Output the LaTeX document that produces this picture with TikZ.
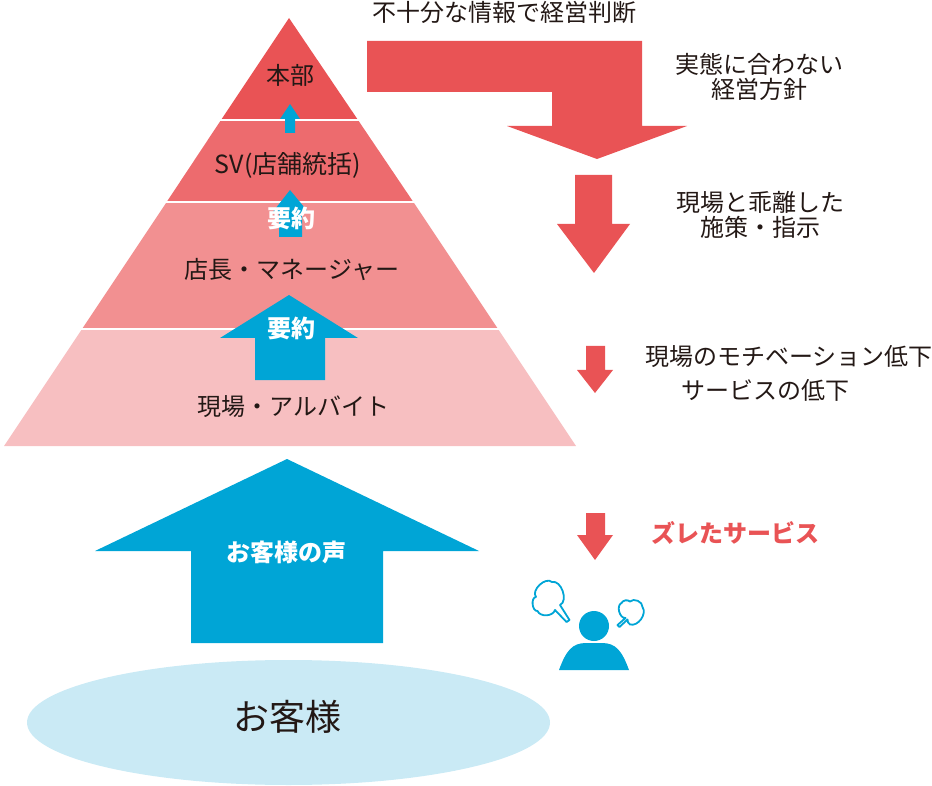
\documentclass[tikz,border=0pt]{standalone}
\usepackage{fontspec}
\setmainfont{Noto Sans CJK JP}
\usepackage{xcolor}
\definecolor{redmain}{HTML}{E95355}
\definecolor{redtwo}{HTML}{ED6B6E}
\definecolor{redthree}{HTML}{F29091}
\definecolor{redfour}{HTML}{F7BFC1}
\definecolor{bluemain}{HTML}{00A5D6}
\definecolor{bluepale}{HTML}{CAEAF5}
\definecolor{inktext}{HTML}{231815}

\begin{document}
\begin{tikzpicture}[x=1pt,y=-1pt,line width=0.2mm,
	label/.style={text=inktext,font=\fontsize{24}{25}\selectfont,inner sep=0pt,align=center},
	strong/.style={font=\fontsize{24}{25}\selectfont\bfseries,inner sep=0pt},
	redarrow/.style={fill=redmain},
	bluearrow/.style={fill=bluemain},
	puff/.style={draw=bluemain,fill=white,line width=1.8pt,line join=round}]
	\useasboundingbox (0,0) rectangle (932,786);

	% pyramid
	\path[fill=redfour]		(82,329) -- (498,329) -- (576,446) -- (4,446) -- cycle;
	\path[fill=redthree]	(166,203) -- (414,203) -- (498,329) -- (82,329) -- cycle;
	\path[fill=redtwo]		(221,120) -- (358,120) -- (414,203) -- (166,203) -- cycle;
	\path[fill=redmain]		(289,18) -- (358,120) -- (221,120) -- cycle;
	\draw[white,line width=2pt] (215,120.5) -- (365,120.5) (160,202.5) -- (420,202.5) (76,329) -- (504,329);

	% blue arrows
	\path[bluearrow]	(290,104) -- (300,119) -- (295,119) -- (295,133) -- (285,133) -- (285,119) -- (280,119) -- cycle;
	\path[bluearrow]	(290,190) -- (309,213) -- (302,213) -- (302,237) -- (279,237) -- (279,213) -- (272,213) -- cycle;
	\path[bluearrow]	(289,295) -- (358,338) -- (325,338) -- (325,380) -- (255,380) -- (255,338) -- (220,338) -- cycle;
	\path[bluearrow]	(287,459) -- (479,551) -- (383,551) -- (383,643) -- (191,643) -- (191,551) -- (95,551) -- cycle;

	% red arrows
	\path[redarrow]	(367,41) -- (642,41) -- (642,126) -- (687,126) -- (597,159) -- (507,126) -- (552,126) -- (552,92) -- (367,92) -- cycle;
	\path[redarrow]	(575,175) -- (612,175) -- (612,224) -- (630,224) -- (594,273) -- (557,224) -- (575,224) -- cycle;
	\path[redarrow]	(586,346) -- (605,346) -- (605,370) -- (613,370) -- (595,393) -- (577,370) -- (586,370) -- cycle;
	\path[redarrow]	(586,513) -- (605,513) -- (605,535) -- (613,535) -- (595,560) -- (577,535) -- (586,535) -- cycle;

	% ground
	\fill[bluepale] (288.5,722.5) ellipse [x radius=261.5,y radius=62.5];

	% person
	\fill[bluemain] (594,626) circle [radius=15];
	\fill[bluemain] (559,670) .. controls (566,651) and (572,643) .. (586,643) -- (602,643) .. controls (616,643) and (622,651) .. (629,670) -- cycle;

	% left puff
	\draw[puff]	(555,610) to[bend left=70] (537.5,611) to[bend left=90] (536,597)
		to[bend left=85] (552,582) to[bend left=85] (560,605) -- (569.5,620) -- (566.5,622) -- cycle;
	% right puff
	\draw[puff]	(625.5,618) to[bend left=80] (621.5,603) to[bend left=50] (630,601.5)
		to[bend left=70] (642.5,607) to[bend left=70] (630,624.5) to[bend left=30] (627.5,619.5) -- (619.5,627) -- (617.5,625) -- cycle;

	% texts
	\node[label]			(honbu)		at (290,75)		{本部};
	\node[label,font=\fontsize{25}{26}\selectfont]	(sv)	at (288,165)	{SV(店舗統括)};
	\node[label]			(tencho)	at (292,270)	{店長・マネージャー};
	\node[label]			(genba)		at (293.5,407)	{現場・アルバイト};
	\node[strong,white]		(yoyakua)	at (291,218)	{要約};
	\node[strong,white]		(yoyakub)	at (291,328)	{要約};
	\node[strong,white]		(koe)		at (286,552)	{お客様の声};
	\node[label,font=\fontsize{36}{37}\selectfont]	(kyaku)	at (287,717)	{お客様};
	\node[label]			(handan)	at (504,12)		{不十分な情報で経営判断};
	\node[label]			(hoshin)	at (759,77)		{実態に合わない\\経営方針};
	\node[label]			(shisaku)	at (760,215)	{現場と乖離した\\施策・指示};
	\node[label]			(motive)	at (789,357)	{現場のモチベーション低下};
	\node[label]			(service)	at (765,390)	{サービスの低下};
	\node[strong,redmain]	(zure)		at (735,533)	{ズレたサービス};
\end{tikzpicture}
\end{document}
